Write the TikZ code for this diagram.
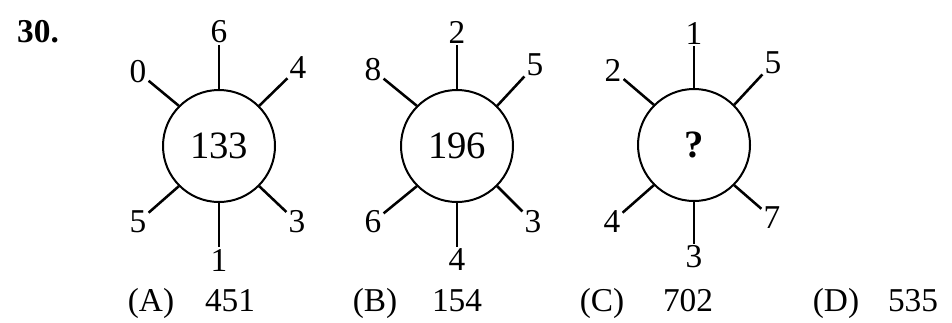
\documentclass[tikz,border=0pt]{standalone}
\usepackage{fontspec}
\setmainfont{Liberation Serif}
\begin{document}
\begin{tikzpicture}[x=0.75pt,y=0.75pt,yscale=-1,xscale=1,
    wheel/.style={circle,draw,line width=1.5pt,minimum size=84pt,inner sep=0pt,font=\fontsize{29}{32}\selectfont},
    spoke/.style={line width=1.9pt},
    tip/.style={inner sep=1.5pt,font=\fontsize{25}{29}\selectfont},
    answer/.style={inner sep=0pt,anchor=base,font=\fontsize{25}{29}\selectfont}]
    \useasboundingbox (0,0) rectangle (952,322);

    % Question number
    \draw (38,32) node [font=\fontsize{25}{29}\selectfont\bfseries] (qno) {30.};

    % Wheel 1
    \draw (219,146) node [wheel] (w1) {133};
    \draw (219,32) node [tip] (w1t) {6};
    \draw (298,68) node [tip] (w1tr) {4};
    \draw (297,222) node [tip] (w1br) {3};
    \draw (219,260) node [tip] (w1b) {1};
    \draw (138,222) node [tip] (w1bl) {5};
    \draw (138,72) node [tip] (w1tl) {0};

    % Wheel 2
    \draw (457,146) node [wheel] (w2) {196};
    \draw (457,32) node [tip] (w2t) {2};
    \draw (535,65) node [tip] (w2tr) {5};
    \draw (533,222) node [tip] (w2br) {3};
    \draw (457,260) node [tip] (w2b) {4};
    \draw (373,222) node [tip] (w2bl) {6};
    \draw (373,70) node [tip] (w2tl) {8};

    % Wheel 3
    \draw (694,145) node [wheel] (w3) {\textbf{?}};
    \draw (694,33) node [tip] (w3t) {1};
    \draw (773,63) node [tip] (w3tr) {5};
    \draw (772,218) node [tip] (w3br) {7};
    \draw (694,257) node [tip] (w3b) {3};
    \draw (612,222) node [tip] (w3bl) {4};
    \draw (613,70) node [tip] (w3tl) {2};

    % Spokes
    \foreach \w in {w1,w2,w3}
      \foreach \a/\n in {90/t,45/tr,315/br,270/b,225/bl,135/tl}
        \draw [spoke] (\w.\a) -- (\w\n);

    % Answers
    \draw (151,311) node [answer] (optA) {(A)};
    \draw (230,311) node [answer] (valA) {451};
    \draw (375,311) node [answer] (optB) {(B)};
    \draw (457,311) node [answer] (valB) {154};
    \draw (602,311) node [answer] (optC) {(C)};
    \draw (688,311) node [answer] (valC) {702};
    \draw (836,311) node [answer] (optD) {(D)};
    \draw (913,311) node [answer] (valD) {535};
\end{tikzpicture}
\end{document}
